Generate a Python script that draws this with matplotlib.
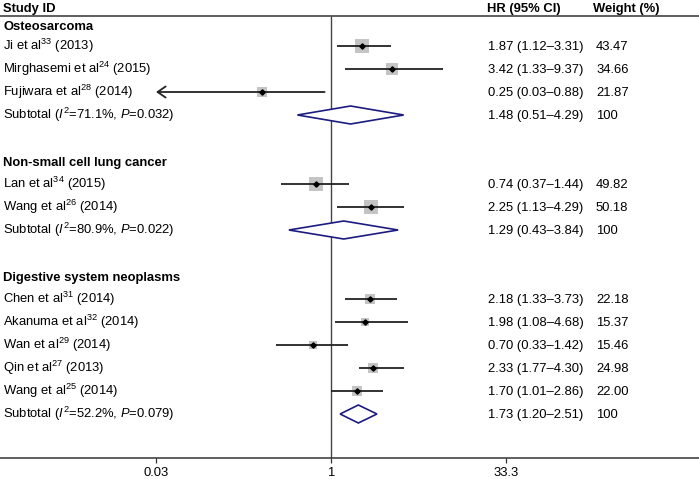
import numpy as np
import matplotlib
matplotlib.use('Agg')
import matplotlib.pyplot as plt

plt.rcParams['font.family'] = 'Liberation Sans'
plt.rcParams['mathtext.fontset'] = 'custom'
plt.rcParams['mathtext.rm'] = 'Liberation Sans'
plt.rcParams['mathtext.it'] = 'Liberation Sans:italic'
plt.rcParams['mathtext.bf'] = 'Liberation Sans:bold'

# data
groups = ['Osteosarcoma', 'Non-small cell lung cancer', 'Digestive system neoplasms']
group_sizes = [3, 2, 5]
studies = ['Ji et al$^{33}$ (2013)', 'Mirghasemi et al$^{24}$ (2015)', 'Fujiwara et al$^{28}$ (2014)',
           'Lan et al$^{34}$ (2015)', 'Wang et al$^{26}$ (2014)',
           'Chen et al$^{31}$ (2014)', 'Akanuma et al$^{32}$ (2014)', 'Wan et al$^{29}$ (2014)',
           'Qin et al$^{27}$ (2013)', 'Wang et al$^{25}$ (2014)']
hr = [1.87, 3.42, 0.25, 0.74, 2.25, 2.18, 1.98, 0.70, 2.33, 1.70]
ci_lo = [1.12, 1.33, 0.03, 0.37, 1.13, 1.33, 1.08, 0.33, 1.77, 1.01]
ci_hi = [3.31, 9.37, 0.88, 1.44, 4.29, 3.73, 4.68, 1.42, 4.30, 2.86]
weights = [43.47, 34.66, 21.87, 49.82, 50.18, 22.18, 15.37, 15.46, 24.98, 22.00]
sub_labels = ['Subtotal ($I^2$=71.1%, $P$=0.032)',
              'Subtotal ($I^2$=80.9%, $P$=0.022)',
              'Subtotal ($I^2$=52.2%, $P$=0.079)']
sub_hr = [1.48, 1.29, 1.73]
sub_lo = [0.51, 0.43, 1.20]
sub_hi = [4.29, 3.84, 2.51]
ticks = [0.03, 1, 33.3]
tick_labels = ['0.03', '1', '33.3']

FS = 9.4
ROW = 23.0          # row spacing in pixel units
X_ONE = 331.0       # pixel position of HR = 1
PX_DEC = 114.9      # pixels per decade
X_HR = 488 / 699
X_W = 596 / 699
X_ID = 3 / 699
LINE = '#222222'
NAVY = '#1c1c80'

fig = plt.figure(figsize=(6.99, 4.79), dpi=100)
ax = fig.add_axes([0, 21 / 479, 1, 458 / 479])
ax.set_xscale('log')
ax.set_xlim(10 ** (-X_ONE / PX_DEC), 10 ** ((699 - X_ONE) / PX_DEC))
ax.set_ylim(458, 0)
trans = ax.get_yaxis_transform()  # x in axes fraction, y in data


def put(x, y, s, bold=False):
    ax.text(x, y + 4.4, s, transform=trans, fontsize=FS, va='baseline', ha='left',
            fontweight='bold' if bold else 'normal', color='black')


# header
put(X_ID, 7.5, 'Study ID', bold=True)
put(X_HR - 1 / 699, 7.5, 'HR (95% CI)', bold=True)
put(X_W - 3 / 699, 7.5, 'Weight (%)', bold=True)
ax.axhline(16, color='#333333', lw=1.1)
ax.vlines(1, 16, 458, color='#444444', lw=1.0, zorder=1)

row = 1
k = 0
for g, name in enumerate(groups):
    # first heading sits a little lower under the header rule
    put(X_ID, row * ROW + (3 if g == 0 else 1), name, bold=True)
    row += 1
    for _ in range(group_sizes[g]):
        y = row * ROW
        put(X_ID, y, studies[k])
        put(X_HR, y, f'{hr[k]:.2f} ({ci_lo[k]:.2f}\u2013{ci_hi[k]:.2f})')
        put(X_W, y, f'{weights[k]:.2f}')
        ax.scatter([hr[k]], [y], s=2.1 * weights[k], marker='s', color='#c4c4c4',
                   linewidths=0, zorder=2)
        if k == 2:
            ax.annotate('', xy=(ci_lo[k], y), xytext=(ci_hi[k], y),
                        arrowprops=dict(arrowstyle='->,head_length=0.58,head_width=0.4',
                                        lw=1.3, color=LINE, shrinkA=0, shrinkB=0,
                                        mutation_scale=10), zorder=3)
        else:
            ax.plot([ci_lo[k], ci_hi[k]], [y, y], color=LINE, lw=1.3, zorder=3,
                    solid_capstyle='butt')
        ax.plot([hr[k]], [y], marker='D', ms=2.7, color='black', zorder=4)
        row += 1
        k += 1
    y = row * ROW
    put(X_ID, y, sub_labels[g])
    put(X_HR, y, f'{sub_hr[g]:.2f} ({sub_lo[g]:.2f}\u2013{sub_hi[g]:.2f})')
    put(X_W, y, '100')
    ax.fill([sub_lo[g], sub_hr[g], sub_hi[g], sub_hr[g]], [y, y - 9, y, y + 9],
            facecolor='white', edgecolor=NAVY, lw=1.2, zorder=3)
    row += 2

for side in ['top', 'left', 'right']:
    ax.spines[side].set_visible(False)
ax.spines['bottom'].set_color('#333333')
ax.spines['bottom'].set_linewidth(1.1)
ax.set_yticks([])
ax.set_xticks(ticks)
ax.set_xticklabels(tick_labels)
ax.minorticks_off()
ax.tick_params(axis='x', direction='out', length=3.6, width=0.9, color='#333333',
               labelsize=FS, pad=3)

fig.savefig('out.png', dpi=100)
